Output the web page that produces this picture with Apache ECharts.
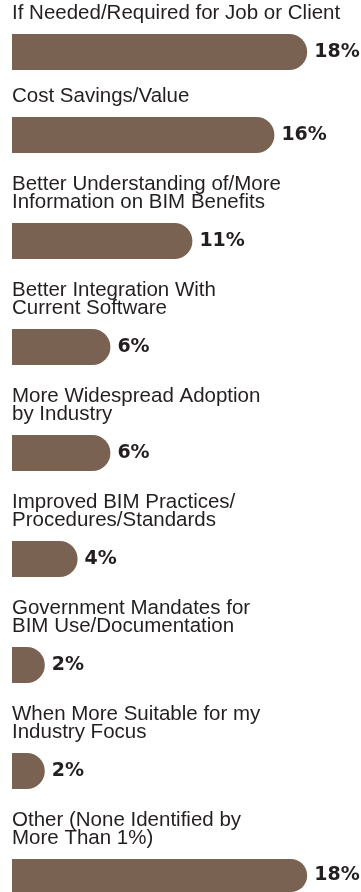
<!DOCTYPE html>
<html>
<head>
<meta charset="utf-8">
<script src="https://cdn.jsdelivr.net/npm/echarts@6/dist/echarts.min.js"></script>
<style>
  html, body { margin: 0; padding: 0; background: #ffffff; }
  #chart { width: 361px; height: 892px; }
</style>
</head>
<body>
<div id="chart"></div>
<script>
// Reasons / conditions, one bar each
const categories = [
  'If Needed/Required for Job or Client',
  'Cost Savings/Value',
  'Better Understanding of/More\nInformation on BIM Benefits',
  'Better Integration With\nCurrent Software',
  'More Widespread Adoption\nby Industry',
  'Improved BIM Practices/\nProcedures/Standards',
  'Government Mandates for\nBIM Use/Documentation',
  'When More Suitable for my\nIndustry Focus',
  'Other (None Identified by\nMore Than 1%)'
];
// Share of respondents (%)
const shares = [18, 16, 11, 6, 6, 4, 2, 2, 18];

// Layout constants
const BAR_H = 36;
const FIRST_TOP = 34;
const LINE_STEP = 23;
const BASE_GAP = 24;
const BAR_COLOR = '#7a6252';
const TEXT_COLOR = '#231f20';

const grids = [], xAxes = [], yAxes = [], series = [];
let barTop = FIRST_TOP;
categories.forEach((name, i) => {
  grids.push({ left: 12, right: 21, top: barTop, height: BAR_H, containLabel: false });
  xAxes.push({
    type: 'value', gridIndex: i, min: 0, max: 20,
    show: false
  });
  yAxes.push({
    type: 'category', gridIndex: i, data: [name],
    name: name,
    nameLocation: 'end',
    nameGap: 12,
    nameTextStyle: {
      align: 'left', verticalAlign: 'bottom',
      fontFamily: 'Liberation Sans', fontSize: 20.5, lineHeight: 18,
      color: TEXT_COLOR
    },
    axisLine: { show: false }, axisTick: { show: false },
    axisLabel: { show: false }, splitLine: { show: false }
  });
  series.push({
    type: 'bar', xAxisIndex: i, yAxisIndex: i,
    data: [shares[i]],
    barWidth: BAR_H,
    silent: true,
    itemStyle: { color: BAR_COLOR, borderRadius: [0, BAR_H / 2, BAR_H / 2, 0] },
    label: {
      show: true, position: 'right', distance: 7,
      formatter: '{c}%',
      fontFamily: 'DejaVu Sans', fontWeight: 'bold', fontSize: 19,
      color: TEXT_COLOR
    }
  });
  // next bar sits below the next label block
  const nextLines = i + 1 < categories.length ? categories[i + 1].split('\n').length : 1;
  barTop += BAR_H + BASE_GAP + LINE_STEP * nextLines;
});

const chart = echarts.init(document.getElementById('chart'), null, { renderer: 'canvas' });
chart.setOption({
  backgroundColor: '#ffffff',
  animation: false,
  grid: grids,
  xAxis: xAxes,
  yAxis: yAxes,
  series: series
});
</script>
</body>
</html>
